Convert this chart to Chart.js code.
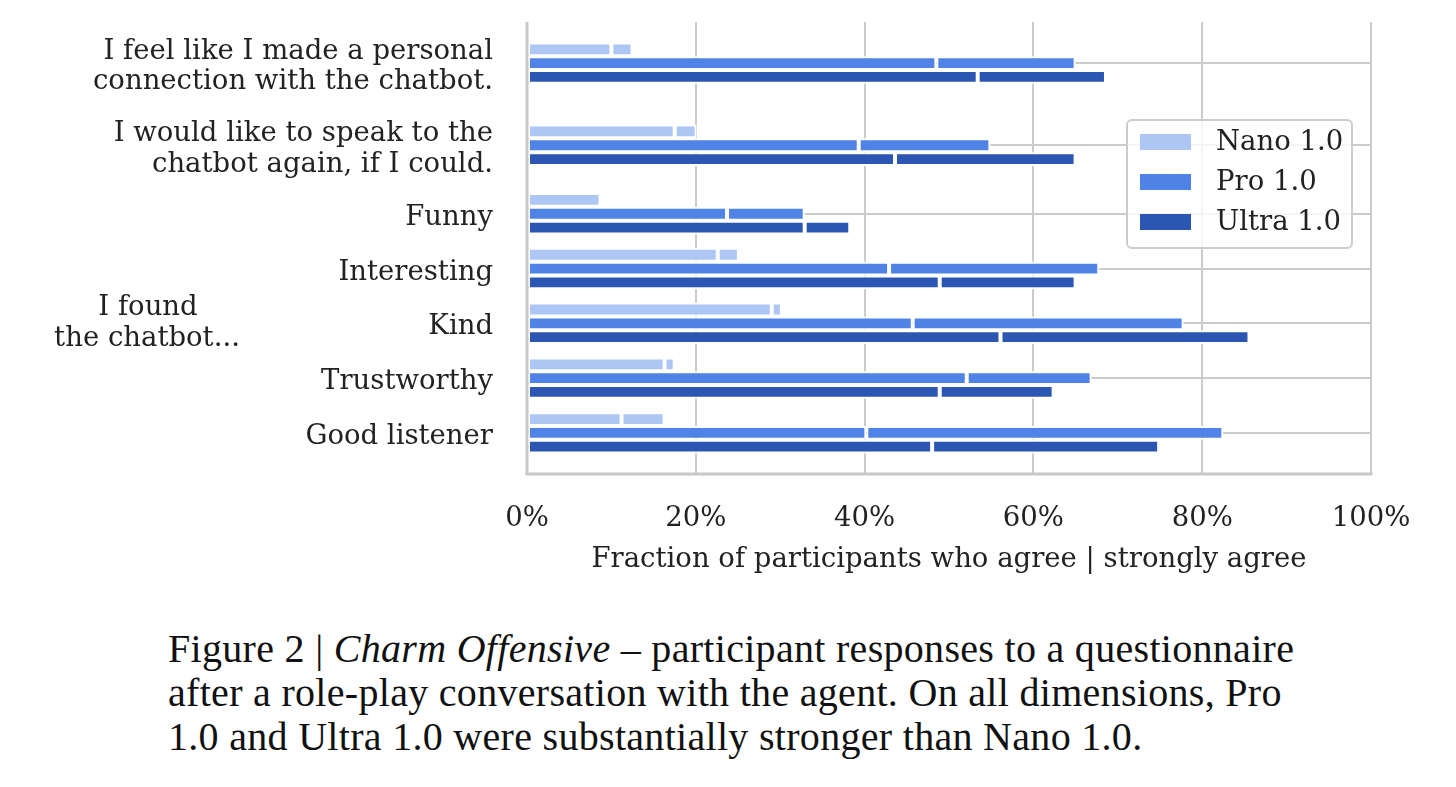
<!DOCTYPE html>
<html>
<head>
<meta charset="utf-8">
<script src="https://cdn.jsdelivr.net/npm/chart.js@4.4.1/dist/chart.umd.min.js"></script>
<style>
  body { margin: 0; background: #fff; }
  #wrap { position: relative; width: 1456px; height: 600px; }
  #caption {
    margin: 27px 0 0 168px;
    font-family: "Liberation Serif", serif;
    font-size: 40px;
    letter-spacing: 0.3px;
    line-height: 44px;
    color: #111;
    white-space: nowrap;
  }
</style>
</head>
<body>
<div id="wrap"><canvas id="chart"></canvas></div>
<div id="caption">Figure 2 | <i>Charm Offensive</i> – participant responses to a questionnaire<br>after a role-play conversation with the agent. On all dimensions, Pro<br>1.0 and Ultra 1.0 were substantially stronger than Nano 1.0.</div>
<script>
// rows, top to bottom
const categories = [
    ['I feel like I made a personal', 'connection with the chatbot.'],
    ['I would like to speak to the', 'chatbot again, if I could.'],
    'Funny',
    'Interesting',
    'Kind',
    'Trustworthy',
    'Good listener'
];
const models = ['Nano 1.0', 'Pro 1.0', 'Ultra 1.0'];

// % agree, % strongly agree
const nanoAgree = [10.0, 17.5, 8.7, 22.6, 29.0, 16.3, 11.2];
const nanoStrong = [2.5, 2.6, 0, 2.5, 1.2, 1.2, 5.1];
const proAgree = [48.5, 39.3, 23.7, 42.9, 45.7, 52.1, 40.2];
const proStrong = [16.5, 15.6, 9.2, 24.9, 32.1, 14.8, 42.3];
const ultraAgree = [53.4, 43.6, 32.9, 48.9, 56.1, 48.9, 48.0];
const ultraStrong = [15.2, 21.4, 5.4, 16.1, 29.5, 13.5, 26.9];

const xTicks = [0, 20, 40, 60, 80, 100];

const colors = ['#aec6f4', '#5083e6', '#2b56b2'];

// row positions: wrapped labels get a bit more room
const lineCount = c => Array.isArray(c) ? c.length : 1;
const rowPos = new Array(categories.length);
rowPos[categories.length - 1] = 0;
for (let i = categories.length - 2; i >= 0; i--) {
    const extra = 0.25 * (lineCount(categories[i]) - 1 + lineCount(categories[i + 1]) - 1);
    rowPos[i] = rowPos[i + 1] + 1 + extra;
}

function series(values) {
    return values.map((v, i) => ({ x: v, y: rowPos[i] }));
}

const parts = [
    [nanoAgree, nanoStrong],
    [proAgree, proStrong],
    [ultraAgree, ultraStrong]
];

const datasets = [];
parts.forEach((pair, m) => {
    pair.forEach((vals, k) => {
        datasets.push({
            label: models[m],
            data: series(vals),
            stack: 's' + m,
            backgroundColor: colors[m],
            borderColor: '#ffffff',
            borderWidth: 2,
            borderSkipped: false,
            categoryPercentage: 0.756,
            barPercentage: 1.0,
            legendEntry: k === 0
        });
    });
});

const gridColor = '#cccccc';
const FONT = '"DejaVu Serif", serif';

const spines = {
    id: 'spines',
    afterDatasetsDraw(chart) {
        const { ctx, chartArea: a } = chart;
        ctx.save();
        ctx.strokeStyle = '#c8c8c8';
        ctx.lineWidth = 3;
        ctx.beginPath();
        ctx.moveTo(a.left, a.top);
        ctx.lineTo(a.left, a.bottom);
        ctx.lineTo(a.right + 1.5, a.bottom);
        ctx.stroke();
        ctx.restore();
    }
};

const extras = {
    id: 'extras',
    afterDraw(chart) {
        const { ctx, chartArea: a } = chart;
        ctx.save();
        // side note
        ctx.fillStyle = '#222';
        ctx.font = '27.5px ' + FONT;
        ctx.textAlign = 'center';
        ctx.textBaseline = 'middle';
        ctx.fillText('I found', 148, 308);
        ctx.fillText('the chatbot...', 147, 339);

        // legend
        const w = 225, h = 128;
        const x = a.right - 19 - w, y = a.top + 98;
        ctx.beginPath();
        ctx.roundRect(x, y, w, h, 5);
        ctx.fillStyle = 'rgba(255,255,255,0.8)';
        ctx.fill();
        ctx.strokeStyle = '#cccccc';
        ctx.lineWidth = 2;
        ctx.stroke();
        const entries = chart.data.datasets.filter(d => d.legendEntry);
        ctx.textAlign = 'left';
        entries.forEach((d, i) => {
            const cy = y + 22 + i * 40;
            ctx.fillStyle = d.backgroundColor;
            ctx.fillRect(x + 13, cy - 8, 51, 16);
            ctx.fillStyle = '#222';
            ctx.fillText(d.label, x + 89, cy + 1);
        });
        ctx.restore();
    }
};

Chart.defaults.font.family = FONT;
Chart.defaults.font.size = 27.5;
Chart.defaults.color = '#222';

new Chart(document.getElementById('chart'), {
    type: 'bar',
    data: { datasets: datasets },
    options: {
        indexAxis: 'y',
        responsive: true,
        maintainAspectRatio: false,
        animation: false,
        layout: { padding: { top: 22, right: 85, bottom: 0, left: 0 } },
        plugins: {
            legend: { display: false },
            tooltip: { enabled: false }
        },
        scales: {
            x: {
                type: 'linear',
                stacked: true,
                min: 0,
                max: 100,
                afterBuildTicks: s => { s.ticks = xTicks.map(v => ({ value: v })); },
                ticks: {
                    padding: 28,
                    callback: v => v + '%'
                },
                grid: { color: gridColor, lineWidth: 2, drawTicks: false },
                border: { display: false },
                title: {
                    display: true,
                    text: 'Fraction of participants who agree | strongly agree',
                    padding: { top: 0, bottom: 24 }
                },
                afterFit: s => {
                    s.height = 126;
                    s.paddingLeft = 0;
                    s.paddingRight = 0;
                }
            },
            y: {
                type: 'linear',
                offset: false,
                min: -0.75,
                max: rowPos[0] + 0.75,
                afterBuildTicks: s => { s.ticks = rowPos.map(v => ({ value: v })); },
                ticks: {
                    padding: 34,
                    labelOffset: 4,
                    font: { lineHeight: 1.1 },
                    callback: v => {
                        const i = rowPos.findIndex(p => Math.abs(p - v) < 1e-6);
                        return i >= 0 ? categories[i] : '';
                    }
                },
                grid: { color: gridColor, lineWidth: 2, drawTicks: false, offset: false },
                border: { display: false },
                afterFit: s => {
                    s.width = 527;
                    s.paddingTop = 0;
                    s.paddingBottom = 0;
                }
            }
        }
    },
    plugins: [spines, extras]
});
</script>
</body>
</html>
